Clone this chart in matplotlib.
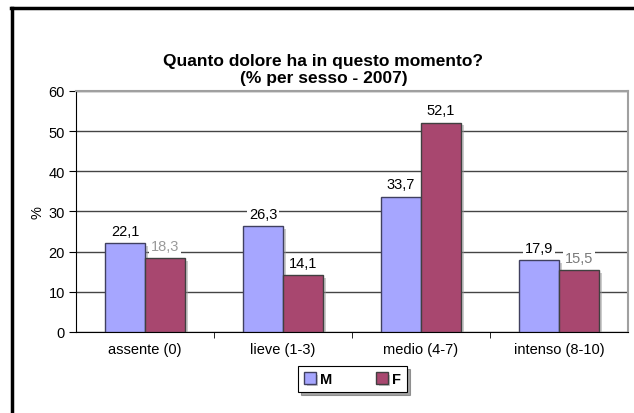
import numpy as np
import matplotlib
matplotlib.use('Agg')
import matplotlib.pyplot as plt
import matplotlib.patheffects as pe
from matplotlib.lines import Line2D

plt.rcParams['font.family'] = ['Liberation Sans', 'DejaVu Sans']

categorie = ['assente (0)', 'lieve (1-3)', 'medio (4-7)', 'intenso (8-10)']
maschi = [22.1, 26.3, 33.7, 17.9]
femmine = [18.3, 14.1, 52.1, 15.5]
label_m = ['22,1', '26,3', '33,7', '17,9']
label_f = ['18,3', '14,1', '52,1', '15,5']
colori_label_f = ['#9a9a9a', 'black', 'black', '#7a7a7a']

col_m = '#a6a6ff'
col_f = '#a8476f'

fig = plt.figure(figsize=(6.34, 4.14), dpi=100)
ax = fig.add_axes([0.1199, 0.1957, 0.8706, 0.5821])

x = np.arange(len(categorie))
w = 0.29
shadow = [pe.SimplePatchShadow(offset=(2, -2), shadow_rgbFace='#999999', alpha=0.5), pe.Normal()]

b1 = ax.bar(x - w / 2, maschi, w, color=col_m, edgecolor='#404060', linewidth=1, zorder=3,
            path_effects=shadow, label='M')
b2 = ax.bar(x + w / 2, femmine, w, color=col_f, edgecolor='#404040', linewidth=1, zorder=3,
            path_effects=shadow, label='F')

box = dict(facecolor='white', edgecolor='none', pad=1.5)
for i in range(len(x)):
    ax.text(x[i] - w / 2, maschi[i] + 1.3, label_m[i], ha='center', va='bottom', fontsize=10.5,
            bbox=box, zorder=4)
    ax.text(x[i] + w / 2, femmine[i] + 1.3, label_f[i], ha='center', va='bottom', fontsize=10.5,
            color=colori_label_f[i], bbox=box, zorder=4)

ax.set_xlim(-0.5, 3.5)
ax.set_ylim(0, 60)
ax.set_yticks(range(0, 61, 10))
ax.set_xticks(x)
ax.set_xticklabels(categorie, fontsize=10.5)
ax.set_xticks([0.5, 1.5, 2.5], minor=True)
ax.tick_params(axis='x', which='major', length=0, pad=7)
ax.tick_params(axis='x', which='minor', length=4, direction='out', color='black')
ax.tick_params(axis='y', length=5, direction='out', labelsize=10.5, pad=3)
ax.yaxis.grid(True, color='#444444', linewidth=1, zorder=0)
ax.set_axisbelow(True)
ax.set_ylabel('%', fontsize=10.5, labelpad=3)

for s in ['top', 'right']:
    ax.spines[s].set_color('#a0a0a0')
    ax.spines[s].set_linewidth(1.5)
ax.spines['left'].set_color('black')
ax.spines['bottom'].set_color('black')

fig.text(0.51, 0.831, 'Quanto dolore ha in questo momento?\n(% per sesso - 2007)',
         ha='center', va='center', fontsize=12.5, fontweight='bold', linespacing=1.15)

leg = fig.legend(loc='center', bbox_to_anchor=(0.556, 0.082), ncol=2,
                 prop={'weight': 'bold', 'size': 10.5}, frameon=True, fancybox=False, shadow=True,
                 handlelength=0.8, handleheight=0.8, columnspacing=3.0, handletextpad=0.3,
                 borderpad=0.4)
leg.get_frame().set_edgecolor('black')
leg.get_frame().set_linewidth(0.8)

# cornice della figura
fig.add_artist(Line2D([12 / 634, 12 / 634], [0, 1 - 9 / 414], color='black', linewidth=2.5,
                      transform=fig.transFigure))
fig.add_artist(Line2D([11 / 634, 1], [1 - 9 / 414, 1 - 9 / 414], color='black', linewidth=2.5,
                      transform=fig.transFigure))

fig.savefig('out.png', dpi=100)
